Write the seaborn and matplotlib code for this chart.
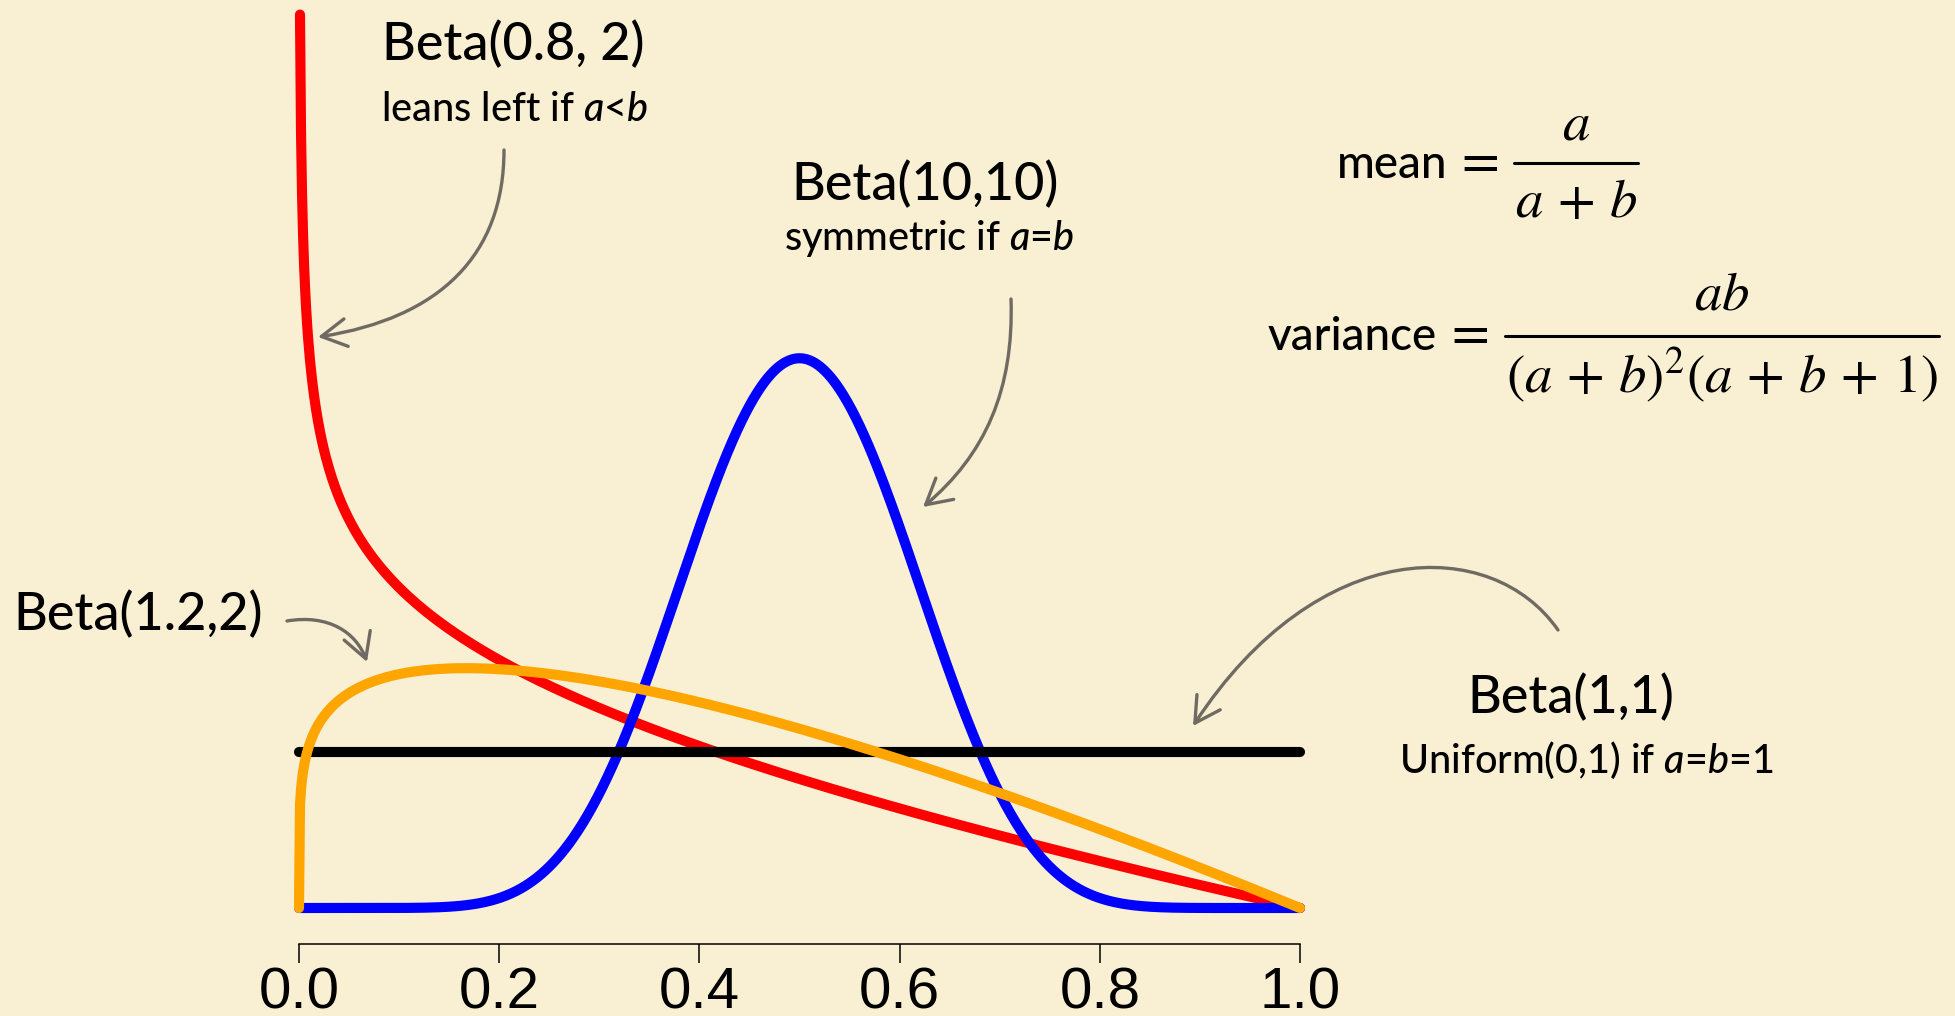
import math
import numpy as np
import pandas as pd
import matplotlib
matplotlib.use("Agg")
import matplotlib.pyplot as plt
import seaborn as sns
from matplotlib.patches import FancyArrowPatch
from matplotlib.path import Path
from matplotlib.lines import Line2D
from matplotlib.transforms import IdentityTransform

# Beta distribution parameters shown on the chart
labels = ["Beta(0.8, 2)", "Beta(10,10)", "Beta(1,1)", "Beta(1.2,2)"]
shape_a = [0.8, 10.0, 1.0, 1.2]
shape_b = [2.0, 10.0, 1.0, 2.0]
colors = ["#ff0000", "#0000ff", "#000000", "#ffa500"]

# x axis ticks
tick_values = [0.0, 0.2, 0.4, 0.6, 0.8, 1.0]
tick_labels = ["0.0", "0.2", "0.4", "0.6", "0.8", "1.0"]

x_grid = np.linspace(0.0, 1.0, 1001)


def beta_pdf(x, a, b):
    log_norm = math.lgamma(a + b) - math.lgamma(a) - math.lgamma(b)
    with np.errstate(divide="ignore", invalid="ignore"):
        y = np.exp(log_norm) * np.power(x, a - 1) * np.power(1 - x, b - 1)
    return y


frames = []
for lab, a, b in zip(labels, shape_a, shape_b):
    y = beta_pdf(x_grid, a, b)
    ok = np.isfinite(y)
    frames.append(pd.DataFrame({"x": x_grid[ok], "density": y[ok], "dist": lab}))
curves = pd.concat(frames, ignore_index=True)

W, H = 1955, 1016
BG = "#f9f0d4"
ARROW = "#6f6b63"

sns.set_theme(style="white")
plt.rcParams["font.family"] = ["Lato", "DejaVu Sans"]
plt.rcParams["text.color"] = "black"
plt.rcParams["mathtext.fontset"] = "custom"
plt.rcParams["mathtext.rm"] = "Lato:medium"
plt.rcParams["mathtext.it"] = "Lato:italic:medium"

fig = plt.figure(figsize=(W / 100, H / 100), dpi=100, facecolor=BG)

# axes placement: x 0..1 -> 299..1300 px, density 0 -> 908 px, 156 px per unit
x0_px, x1_px = 299.0, 1300.0
y0_px, unit_px = 908.0, 156.0
ax_bottom_px = 944.0
ax = fig.add_axes([0, (H - ax_bottom_px) / H, 1, ax_bottom_px / H])
ax.set_facecolor(BG)
sx = x1_px - x0_px
ax.set_xlim(-x0_px / sx, (W - x0_px) / sx)
ax.set_ylim(-(ax_bottom_px - y0_px) / unit_px, y0_px / unit_px)

# drawing order: red, blue, black, orange
for lab, col, z in zip(["Beta(0.8, 2)", "Beta(10,10)", "Beta(1,1)", "Beta(1.2,2)"],
                       colors, [2, 3, 4, 5]):
    sub = curves[curves["dist"] == lab]
    sns.lineplot(data=sub, x="x", y="density", color=col, linewidth=7.3,
                 ax=ax, zorder=z, solid_capstyle="round", clip_on=False,
                 estimator=None, sort=False)

for side in ["left", "right", "top"]:
    ax.spines[side].set_visible(False)
ax.spines["bottom"].set_bounds(0, 1)
ax.spines["bottom"].set_linewidth(1.1)
ax.spines["bottom"].set_color("black")
ax.set_yticks([])
ax.set_xticks(tick_values)
ax.set_xticklabels(tick_labels, fontfamily="Liberation Sans", fontsize=42)
ax.tick_params(axis="x", direction="out", length=14, width=1.1, color="black",
               pad=2, bottom=True, labelcolor="black")
ax.set_xlabel("")
ax.set_ylabel("")
ax.grid(False)


def fpx(x, y_top):
    """Figure pixel position from a top-left origin."""
    return (x, H - y_top)


def ftext(x, y_top, s, **kw):
    kw.setdefault("color", "black")
    fig.text(x / W, (H - y_top) / H, s, **kw)


LABEL_FS = 37.5
SUB_FS = 28.5
WEIGHT = "medium"

# curve labels
ftext(513, 60, "Beta(0.8, 2)", fontsize=LABEL_FS, fontweight=WEIGHT,
      ha="center", va="baseline")
ftext(514, 121, r"leans left if $a$<$b$", fontsize=SUB_FS, fontweight=WEIGHT,
      ha="center", va="baseline")

ftext(925, 200, "Beta(10,10)", fontsize=LABEL_FS, fontweight=WEIGHT,
      ha="center", va="baseline")
ftext(929, 250, r"symmetric if $a$=$b$", fontsize=SUB_FS, fontweight=WEIGHT,
      ha="center", va="baseline")

ftext(138, 630, "Beta(1.2,2)", fontsize=LABEL_FS, fontweight=WEIGHT,
      ha="center", va="baseline")

ftext(1571, 713, "Beta(1,1)", fontsize=LABEL_FS, fontweight=WEIGHT,
      ha="center", va="baseline")
ftext(1586, 773, r"Uniform(0,1) if $a$=$b$=1", fontsize=SUB_FS, fontweight=WEIGHT,
      ha="center", va="baseline")

# moments of the beta distribution
MATH_FS = 39.5
ftext(1447, 178, "mean", fontsize=33, fontweight=WEIGHT, ha="right", va="baseline")
ftext(1480, 178, "=", fontsize=MATH_FS, fontfamily="STIXGeneral",
      ha="center", va="baseline")
ftext(1576, 139, r"$a$", fontsize=MATH_FS, ha="center", va="baseline",
      math_fontfamily="stix")
ftext(1576, 217, r"$a\,+\,b$", fontsize=MATH_FS, ha="center", va="baseline",
      math_fontfamily="stix")
fig.add_artist(Line2D([1514 / W, 1638 / W], [(H - 163) / H, (H - 163) / H],
                      transform=fig.transFigure, color="black", linewidth=2.2))

ftext(1437, 350, "variance", fontsize=33, fontweight=WEIGHT, ha="right",
      va="baseline")
ftext(1470, 350, "=", fontsize=MATH_FS, fontfamily="STIXGeneral",
      ha="center", va="baseline")
ftext(1722, 310, r"$ab$", fontsize=MATH_FS, ha="center", va="baseline",
      math_fontfamily="stix")
ftext(1722, 393, r"$(a\,+\,b)^2(a\,+\,b\,+\,1)$", fontsize=MATH_FS, ha="center",
      va="baseline", math_fontfamily="stix")
fig.add_artist(Line2D([1505 / W, 1939 / W], [(H - 336) / H, (H - 336) / H],
                      transform=fig.transFigure, color="black", linewidth=2.2))


def curved_arrow(p0, c1, c2, p3):
    verts = [fpx(*p0), fpx(*c1), fpx(*c2), fpx(*p3)]
    codes = [Path.MOVETO, Path.CURVE4, Path.CURVE4, Path.CURVE4]
    arr = FancyArrowPatch(path=Path(verts, codes),
                          arrowstyle="->,head_length=0.9,head_width=0.5",
                          mutation_scale=20, color=ARROW, linewidth=2.4,
                          transform=IdentityTransform())
    fig.add_artist(arr)


curved_arrow((504, 150), (504, 255), (440, 318), (318, 337))
curved_arrow((1011, 299), (1014, 390), (985, 455), (923, 507))
curved_arrow((287, 621), (328, 614), (356, 632), (367, 662))
curved_arrow((1558, 630), (1492, 535), (1318, 535), (1193, 726))

fig.savefig("out.png", dpi=100, facecolor=BG)
